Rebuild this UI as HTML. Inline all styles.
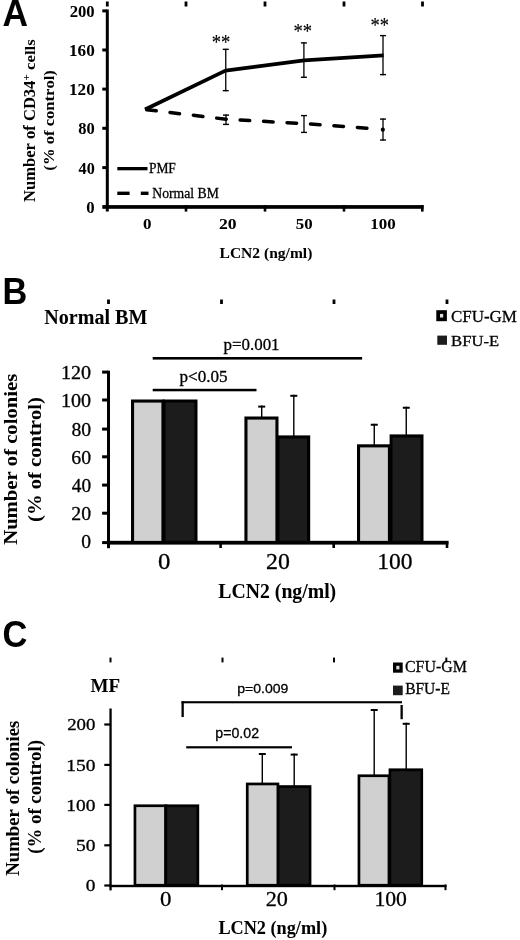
<!DOCTYPE html>
<html><head><meta charset="utf-8"><title>Figure</title>
<style>
html,body{margin:0;padding:0;background:#fff;}
body{width:520px;height:940px;overflow:hidden;font-family:"Liberation Serif",serif;}
svg{display:block;}
text{font-kerning:none;stroke:#000;stroke-width:0.35px;paint-order:stroke;}
</style></head>
<body>
<svg width="520" height="940" viewBox="0 0 520 940">
<defs><filter id="bl" x="0" y="0" width="1" height="1"><feGaussianBlur stdDeviation="0.45"/></filter></defs>
<rect width="520" height="940" fill="#fff"/>
<g filter="url(#bl)">
<text transform="translate(2.52,25.80) scale(0.9761,1)" font-family='"Liberation Sans", sans-serif' font-weight="bold" font-size="36.19" fill="#000"  style="stroke-width:0.05px">A</text>
<rect x="105.90" y="1.50" width="2.80" height="5.00" fill="#000"/>
<rect x="184.60" y="1.50" width="2.80" height="5.00" fill="#000"/>
<rect x="263.60" y="1.50" width="2.80" height="5.00" fill="#000"/>
<rect x="342.60" y="1.50" width="2.80" height="5.00" fill="#000"/>
<rect x="421.10" y="1.50" width="2.80" height="5.00" fill="#000"/>
<rect x="105.80" y="9.50" width="3.00" height="202.00" fill="#000"/>
<rect x="105.80" y="205.10" width="317.80" height="3.70" fill="#000"/>
<rect x="102.30" y="9.40" width="4.70" height="3.00" fill="#000"/>
<rect x="102.30" y="48.50" width="4.70" height="3.00" fill="#000"/>
<rect x="102.30" y="87.60" width="4.70" height="3.00" fill="#000"/>
<rect x="102.30" y="126.80" width="4.70" height="3.00" fill="#000"/>
<rect x="102.30" y="166.10" width="4.70" height="3.00" fill="#000"/>
<rect x="102.30" y="205.10" width="4.70" height="3.70" fill="#000"/>
<rect x="184.70" y="205.10" width="2.60" height="6.50" fill="#000"/>
<rect x="263.70" y="205.10" width="2.60" height="6.50" fill="#000"/>
<rect x="342.70" y="205.10" width="2.60" height="6.50" fill="#000"/>
<rect x="421.00" y="205.10" width="2.60" height="6.50" fill="#000"/>
<text transform="translate(69.70,16.83) scale(0.9627,1)" font-family='"Liberation Serif", serif' font-weight="bold" font-size="17.34" fill="#000"  style="stroke-width:0.05px">200</text>
<text transform="translate(69.03,55.93) scale(0.9892,1)" font-family='"Liberation Serif", serif' font-weight="bold" font-size="17.34" fill="#000"  style="stroke-width:0.05px">160</text>
<text transform="translate(69.03,95.03) scale(0.9892,1)" font-family='"Liberation Serif", serif' font-weight="bold" font-size="17.34" fill="#000"  style="stroke-width:0.05px">120</text>
<text transform="translate(78.25,134.23) scale(0.9502,1)" font-family='"Liberation Serif", serif' font-weight="bold" font-size="17.34" fill="#000"  style="stroke-width:0.05px">80</text>
<text transform="translate(78.58,173.53) scale(0.9306,1)" font-family='"Liberation Serif", serif' font-weight="bold" font-size="17.34" fill="#000"  style="stroke-width:0.05px">40</text>
<text transform="translate(86.36,212.93) scale(0.9662,1)" font-family='"Liberation Serif", serif' font-weight="bold" font-size="17.34" fill="#000"  style="stroke-width:0.05px">0</text>
<text transform="translate(142.95,228.55) scale(1.1239,1)" font-family='"Liberation Serif", serif' font-weight="bold" font-size="15.12" fill="#000"  style="stroke-width:0.05px">0</text>
<text transform="translate(219.06,228.55) scale(1.1650,1)" font-family='"Liberation Serif", serif' font-weight="bold" font-size="15.12" fill="#000"  style="stroke-width:0.05px">20</text>
<text transform="translate(295.83,228.55) scale(1.1123,1)" font-family='"Liberation Serif", serif' font-weight="bold" font-size="15.12" fill="#000"  style="stroke-width:0.05px">50</text>
<text transform="translate(370.24,228.55) scale(1.1203,1)" font-family='"Liberation Serif", serif' font-weight="bold" font-size="15.12" fill="#000"  style="stroke-width:0.05px">100</text>
<text transform="translate(219.53,257.50) scale(1.0506,1)" font-family='"Liberation Serif", serif' font-weight="bold" font-size="14.81" fill="#000"  style="stroke-width:0.05px">LCN2 (ng/ml)</text>
<text transform="translate(35.00,202.02) rotate(-90) scale(0.9776,1)" font-family='"Liberation Serif", serif' font-weight="bold" font-size="16.95" fill="#000"  style="stroke-width:0.05px">Number of CD34</text>
<text transform="translate(35.05,69.97) rotate(-90) scale(1.0709,1)" font-family='"Liberation Serif", serif' font-weight="bold" font-size="15.63" fill="#000"  style="stroke-width:0.05px">cells</text>
<text transform="translate(30.26,80.58) rotate(-90) scale(1.0221,1)" font-family='"Liberation Serif", serif' font-weight="bold" font-size="10.73" fill="#000"  style="stroke-width:0.05px">+</text>
<text transform="translate(53.54,170.63) rotate(-90) scale(1.1551,1)" font-family='"Liberation Serif", serif' font-weight="bold" font-size="14.39" fill="#000"  style="stroke-width:0.05px">(% of control)</text>
<polyline points="145,109.5 225.5,70.6 304.1,60.4 383.6,55.4" fill="none" stroke="#000" stroke-width="3.7" stroke-linejoin="round"/>
<polyline points="145,109.5 226,119.25 304,123.6 371.2,128.5" fill="none" stroke="#000" stroke-width="3.5" stroke-dasharray="9.6,13.9" stroke-dashoffset="21.8" stroke-linecap="round"/>
<circle cx="382.8" cy="129.7" r="2.1" fill="#000"/>
<line x1="225.75" y1="48.75" x2="225.75" y2="91.25" stroke="#000" stroke-width="1.3" />
<line x1="222.75" y1="49.35" x2="228.75" y2="49.35" stroke="#000" stroke-width="1.4" />
<line x1="222.75" y1="90.65" x2="228.75" y2="90.65" stroke="#000" stroke-width="1.4" />
<line x1="303.90" y1="42.30" x2="303.90" y2="77.90" stroke="#000" stroke-width="1.3" />
<line x1="300.90" y1="42.90" x2="306.90" y2="42.90" stroke="#000" stroke-width="1.4" />
<line x1="300.90" y1="77.30" x2="306.90" y2="77.30" stroke="#000" stroke-width="1.4" />
<line x1="383.00" y1="35.00" x2="383.00" y2="75.20" stroke="#000" stroke-width="1.3" />
<line x1="380.00" y1="35.60" x2="386.00" y2="35.60" stroke="#000" stroke-width="1.4" />
<line x1="380.00" y1="74.60" x2="386.00" y2="74.60" stroke="#000" stroke-width="1.4" />
<line x1="226.00" y1="114.50" x2="226.00" y2="125.00" stroke="#000" stroke-width="1.3" />
<line x1="223.00" y1="115.10" x2="229.00" y2="115.10" stroke="#000" stroke-width="1.4" />
<line x1="223.00" y1="124.40" x2="229.00" y2="124.40" stroke="#000" stroke-width="1.4" />
<line x1="304.00" y1="115.00" x2="304.00" y2="133.00" stroke="#000" stroke-width="1.3" />
<line x1="301.00" y1="115.60" x2="307.00" y2="115.60" stroke="#000" stroke-width="1.4" />
<line x1="301.00" y1="132.40" x2="307.00" y2="132.40" stroke="#000" stroke-width="1.4" />
<line x1="383.00" y1="118.50" x2="383.00" y2="140.60" stroke="#000" stroke-width="1.3" />
<line x1="380.00" y1="119.10" x2="386.00" y2="119.10" stroke="#000" stroke-width="1.4" />
<line x1="380.00" y1="140.00" x2="386.00" y2="140.00" stroke="#000" stroke-width="1.4" />
<text transform="translate(211.79,48.95) scale(0.8857,1)" font-family='"Liberation Serif", serif' font-weight="normal" font-size="21.00" fill="#000" style="stroke-width:0.15px">**</text>
<text transform="translate(293.49,38.17) scale(0.8974,1)" font-family='"Liberation Serif", serif' font-weight="normal" font-size="20.73" fill="#000" style="stroke-width:0.15px">**</text>
<text transform="translate(370.50,32.49) scale(0.9039,1)" font-family='"Liberation Serif", serif' font-weight="normal" font-size="20.45" fill="#000" style="stroke-width:0.15px">**</text>
<rect x="117.30" y="167.00" width="30.20" height="3.30" fill="#000"/>
<text transform="translate(148.91,173.00) scale(0.9592,1)" font-family='"Liberation Serif", serif' font-weight="normal" font-size="14.05" fill="#000"  style="stroke-width:0.3px">PMF</text>
<rect x="117.30" y="191.60" width="12.30" height="3.40" fill="#000"/>
<rect x="140.80" y="191.60" width="7.70" height="3.40" fill="#000"/>
<text transform="translate(152.31,198.20) scale(0.9062,1)" font-family='"Liberation Serif", serif' font-weight="normal" font-size="15.12" fill="#000"  style="stroke-width:0.3px">Normal BM</text>
<text transform="translate(2.61,303.90) scale(0.9469,1)" font-family='"Liberation Sans", sans-serif' font-weight="bold" font-size="36.19" fill="#000"  style="stroke-width:0.05px">B</text>
<rect x="107.10" y="299.50" width="2.80" height="4.50" fill="#000"/>
<rect x="220.10" y="299.50" width="2.80" height="4.50" fill="#000"/>
<rect x="332.60" y="299.50" width="2.80" height="4.50" fill="#000"/>
<rect x="445.60" y="299.50" width="2.80" height="4.50" fill="#000"/>
<text transform="translate(44.22,324.00) scale(0.9970,1)" font-family='"Liberation Serif", serif' font-weight="bold" font-size="20.16" fill="#000"  style="stroke-width:0.05px">Normal BM</text>
<rect x="107.00" y="370.70" width="3.00" height="177.50" fill="#000"/>
<rect x="107.00" y="540.80" width="341.50" height="3.80" fill="#000"/>
<rect x="102.10" y="370.60" width="5.90" height="3.00" fill="#000"/>
<rect x="102.10" y="398.50" width="5.90" height="3.00" fill="#000"/>
<rect x="102.10" y="427.60" width="5.90" height="3.00" fill="#000"/>
<rect x="102.10" y="455.30" width="5.90" height="3.00" fill="#000"/>
<rect x="102.10" y="483.60" width="5.90" height="3.00" fill="#000"/>
<rect x="102.10" y="511.70" width="5.90" height="3.00" fill="#000"/>
<rect x="102.10" y="541.10" width="5.90" height="3.00" fill="#000"/>
<rect x="219.30" y="541.00" width="2.60" height="7.00" fill="#000"/>
<rect x="332.40" y="541.00" width="2.60" height="7.00" fill="#000"/>
<rect x="445.70" y="541.00" width="2.60" height="7.00" fill="#000"/>
<text transform="translate(61.03,379.01) scale(1.0508,1)" font-family='"Liberation Serif", serif' font-weight="normal" font-size="19.12" fill="#000"  style="stroke-width:0.3px">120</text>
<text transform="translate(61.03,407.41) scale(1.0508,1)" font-family='"Liberation Serif", serif' font-weight="normal" font-size="19.12" fill="#000"  style="stroke-width:0.3px">100</text>
<text transform="translate(71.45,436.01) scale(1.0305,1)" font-family='"Liberation Serif", serif' font-weight="normal" font-size="19.12" fill="#000"  style="stroke-width:0.3px">80</text>
<text transform="translate(71.35,463.71) scale(1.0360,1)" font-family='"Liberation Serif", serif' font-weight="normal" font-size="19.12" fill="#000"  style="stroke-width:0.3px">60</text>
<text transform="translate(71.82,492.01) scale(1.0103,1)" font-family='"Liberation Serif", serif' font-weight="normal" font-size="19.12" fill="#000"  style="stroke-width:0.3px">40</text>
<text transform="translate(71.33,520.31) scale(1.0371,1)" font-family='"Liberation Serif", serif' font-weight="normal" font-size="19.12" fill="#000"  style="stroke-width:0.3px">20</text>
<text transform="translate(81.35,547.71) scale(1.0244,1)" font-family='"Liberation Serif", serif' font-weight="normal" font-size="19.12" fill="#000"  style="stroke-width:0.3px">0</text>
<rect x="132.55" y="401.05" width="30.40" height="141.40" fill="#d0d0d0" stroke="#000" stroke-width="3.1"/>
<rect x="164.05" y="401.05" width="31.90" height="141.40" fill="#1c1c1c" stroke="#000" stroke-width="3.1"/>
<rect x="245.95" y="418.05" width="31.00" height="124.40" fill="#d0d0d0" stroke="#000" stroke-width="3.1"/>
<rect x="278.05" y="436.95" width="30.60" height="105.50" fill="#1c1c1c" stroke="#000" stroke-width="3.1"/>
<rect x="358.55" y="445.85" width="30.90" height="96.60" fill="#d0d0d0" stroke="#000" stroke-width="3.1"/>
<rect x="391.15" y="435.95" width="30.80" height="106.50" fill="#1c1c1c" stroke="#000" stroke-width="3.1"/>
<line x1="261.70" y1="405.60" x2="261.70" y2="418.00" stroke="#000" stroke-width="1.4" />
<line x1="258.20" y1="406.60" x2="265.20" y2="406.60" stroke="#000" stroke-width="2" />
<line x1="293.80" y1="394.80" x2="293.80" y2="437.00" stroke="#000" stroke-width="1.4" />
<line x1="290.30" y1="395.80" x2="297.30" y2="395.80" stroke="#000" stroke-width="2" />
<line x1="374.25" y1="423.75" x2="374.25" y2="446.00" stroke="#000" stroke-width="1.4" />
<line x1="370.75" y1="424.75" x2="377.75" y2="424.75" stroke="#000" stroke-width="2" />
<line x1="406.25" y1="406.75" x2="406.25" y2="435.00" stroke="#000" stroke-width="1.4" />
<line x1="402.75" y1="407.75" x2="409.75" y2="407.75" stroke="#000" stroke-width="2" />
<rect x="152.70" y="357.00" width="209.40" height="2.60" fill="#000"/>
<rect x="152.70" y="388.80" width="103.80" height="2.50" fill="#000"/>
<text transform="translate(223.43,350.07) scale(0.9666,1)" font-family='"Liberation Serif", serif' font-weight="normal" font-size="17.54" fill="#000"  style="stroke-width:0.3px">p=0.001</text>
<text transform="translate(179.52,382.38) scale(1.0359,1)" font-family='"Liberation Serif", serif' font-weight="normal" font-size="16.52" fill="#000"  style="stroke-width:0.3px">p&lt;0.05</text>
<rect x="436.30" y="310.20" width="10.60" height="11.00" fill="#000"/>
<rect x="440.00" y="313.90" width="3.20" height="3.60" fill="#ddd"/>
<rect x="437.30" y="335.60" width="9.70" height="9.20" fill="#1c1c1c"/>
<text transform="translate(450.90,321.83) scale(0.9675,1)" font-family='"Liberation Serif", serif' font-weight="normal" font-size="17.56" fill="#000"  style="stroke-width:0.3px">CFU-GM</text>
<text transform="translate(451.12,345.80) scale(1.1216,1)" font-family='"Liberation Serif", serif' font-weight="normal" font-size="14.81" fill="#000"  style="stroke-width:0.3px">BFU-E</text>
<text transform="translate(157.96,568.78) scale(1.0786,1)" font-family='"Liberation Serif", serif' font-weight="normal" font-size="22.97" fill="#000"  style="stroke-width:0.3px">0</text>
<text transform="translate(266.05,568.78) scale(1.0386,1)" font-family='"Liberation Serif", serif' font-weight="normal" font-size="22.97" fill="#000"  style="stroke-width:0.3px">20</text>
<text transform="translate(377.23,568.78) scale(1.0234,1)" font-family='"Liberation Serif", serif' font-weight="normal" font-size="22.97" fill="#000"  style="stroke-width:0.3px">100</text>
<text transform="translate(218.36,597.70) scale(0.9576,1)" font-family='"Liberation Serif", serif' font-weight="bold" font-size="20.62" fill="#000"  style="stroke-width:0.05px">LCN2 (ng/ml)</text>
<text transform="translate(17.30,544.79) rotate(-90) scale(1.0418,1)" font-family='"Liberation Serif", serif' font-weight="bold" font-size="19.85" fill="#000"  style="stroke-width:0.05px">Number of colonies</text>
<text transform="translate(40.68,521.91) rotate(-90) scale(1.1187,1)" font-family='"Liberation Serif", serif' font-weight="bold" font-size="18.43" fill="#000"  style="stroke-width:0.05px">(% of control)</text>
<text transform="translate(2.59,646.84) scale(0.9229,1)" font-family='"Liberation Sans", sans-serif' font-weight="bold" font-size="37.29" fill="#000"  style="stroke-width:0.05px">C</text>
<rect x="109.50" y="657.60" width="2.00" height="4.80" fill="#000"/>
<rect x="221.50" y="657.60" width="2.00" height="4.80" fill="#000"/>
<rect x="333.00" y="657.60" width="2.00" height="4.80" fill="#000"/>
<rect x="445.30" y="657.60" width="2.00" height="4.80" fill="#000"/>
<text transform="translate(90.47,691.50) scale(1.0490,1)" font-family='"Liberation Serif", serif' font-weight="bold" font-size="18.17" fill="#000"  style="stroke-width:0.05px">MF</text>
<rect x="109.40" y="708.50" width="2.30" height="181.90" fill="#000"/>
<rect x="109.40" y="884.80" width="337.10" height="2.40" fill="#000"/>
<rect x="104.30" y="723.40" width="5.70" height="2.20" fill="#000"/>
<rect x="104.30" y="763.80" width="5.70" height="2.20" fill="#000"/>
<rect x="104.30" y="803.80" width="5.70" height="2.20" fill="#000"/>
<rect x="104.30" y="844.20" width="5.70" height="2.20" fill="#000"/>
<rect x="104.30" y="884.40" width="5.70" height="2.20" fill="#000"/>
<rect x="221.00" y="884.50" width="2.00" height="5.70" fill="#000"/>
<rect x="333.50" y="884.50" width="2.00" height="5.70" fill="#000"/>
<rect x="444.50" y="884.50" width="2.00" height="5.70" fill="#000"/>
<text transform="translate(67.17,730.34) scale(1.1345,1)" font-family='"Liberation Serif", serif' font-weight="normal" font-size="16.60" fill="#000"  style="stroke-width:0.3px">200</text>
<text transform="translate(66.29,770.74) scale(1.1708,1)" font-family='"Liberation Serif", serif' font-weight="normal" font-size="16.60" fill="#000"  style="stroke-width:0.3px">150</text>
<text transform="translate(66.29,810.74) scale(1.1708,1)" font-family='"Liberation Serif", serif' font-weight="normal" font-size="16.60" fill="#000"  style="stroke-width:0.3px">100</text>
<text transform="translate(75.97,851.14) scale(1.1733,1)" font-family='"Liberation Serif", serif' font-weight="normal" font-size="16.60" fill="#000"  style="stroke-width:0.3px">50</text>
<text transform="translate(85.76,891.34) scale(1.1657,1)" font-family='"Liberation Serif", serif' font-weight="normal" font-size="16.60" fill="#000"  style="stroke-width:0.3px">0</text>
<rect x="134.95" y="805.75" width="30.70" height="79.50" fill="#d0d0d0" stroke="#000" stroke-width="2.7"/>
<rect x="165.75" y="805.75" width="32.10" height="79.50" fill="#1c1c1c" stroke="#000" stroke-width="2.7"/>
<rect x="247.25" y="783.95" width="30.70" height="101.30" fill="#d0d0d0" stroke="#000" stroke-width="2.7"/>
<rect x="278.25" y="786.55" width="31.80" height="98.70" fill="#1c1c1c" stroke="#000" stroke-width="2.7"/>
<rect x="358.95" y="775.75" width="30.00" height="109.50" fill="#d0d0d0" stroke="#000" stroke-width="2.7"/>
<rect x="389.95" y="769.75" width="31.80" height="115.50" fill="#1c1c1c" stroke="#000" stroke-width="2.7"/>
<line x1="262.30" y1="753.00" x2="262.30" y2="785.00" stroke="#000" stroke-width="1.4" />
<line x1="258.80" y1="754.00" x2="265.80" y2="754.00" stroke="#000" stroke-width="2" />
<line x1="294.20" y1="753.60" x2="294.20" y2="787.00" stroke="#000" stroke-width="1.4" />
<line x1="290.70" y1="754.60" x2="297.70" y2="754.60" stroke="#000" stroke-width="2" />
<line x1="374.20" y1="709.00" x2="374.20" y2="776.00" stroke="#000" stroke-width="1.4" />
<line x1="370.70" y1="710.00" x2="377.70" y2="710.00" stroke="#000" stroke-width="2" />
<line x1="406.20" y1="722.80" x2="406.20" y2="770.00" stroke="#000" stroke-width="1.4" />
<line x1="402.70" y1="723.80" x2="409.70" y2="723.80" stroke="#000" stroke-width="2" />
<rect x="181.50" y="701.20" width="220.50" height="2.10" fill="#000"/>
<rect x="181.50" y="701.20" width="2.30" height="15.80" fill="#000"/>
<rect x="400.50" y="705.00" width="2.30" height="14.20" fill="#000"/>
<rect x="186.20" y="746.20" width="105.80" height="2.20" fill="#000"/>
<text transform="translate(237.19,693.00) scale(1.0451,1)" font-family='"Liberation Sans", sans-serif' font-weight="normal" font-size="13.47" fill="#000"  style="stroke-width:0.3px">p=0.009</text>
<text transform="translate(215.28,738.11) scale(1.0208,1)" font-family='"Liberation Sans", sans-serif' font-weight="normal" font-size="13.91" fill="#000"  style="stroke-width:0.3px">p=0.02</text>
<rect x="393.00" y="662.50" width="9.70" height="10.20" fill="#000"/>
<rect x="396.30" y="665.80" width="3.10" height="3.60" fill="#ddd"/>
<rect x="393.00" y="685.60" width="9.70" height="9.60" fill="#1c1c1c"/>
<text transform="translate(404.95,672.40) scale(0.9322,1)" font-family='"Liberation Serif", serif' font-weight="normal" font-size="17.10" fill="#000"  style="stroke-width:0.3px">CFU-GM</text>
<text transform="translate(405.15,694.10) scale(0.9862,1)" font-family='"Liberation Serif", serif' font-weight="normal" font-size="15.73" fill="#000"  style="stroke-width:0.3px">BFU-E</text>
<text transform="translate(159.93,905.79) scale(1.0800,1)" font-family='"Liberation Serif", serif' font-weight="normal" font-size="21.19" fill="#000"  style="stroke-width:0.3px">0</text>
<text transform="translate(265.72,905.79) scale(1.0487,1)" font-family='"Liberation Serif", serif' font-weight="normal" font-size="21.19" fill="#000"  style="stroke-width:0.3px">20</text>
<text transform="translate(374.39,905.79) scale(1.0234,1)" font-family='"Liberation Serif", serif' font-weight="normal" font-size="21.19" fill="#000"  style="stroke-width:0.3px">100</text>
<text transform="translate(218.39,933.50) scale(0.9951,1)" font-family='"Liberation Serif", serif' font-weight="bold" font-size="18.33" fill="#000"  style="stroke-width:0.05px">LCN2 (ng/ml)</text>
<text transform="translate(18.70,875.76) rotate(-90) scale(0.9896,1)" font-family='"Liberation Serif", serif' font-weight="bold" font-size="18.94" fill="#000"  style="stroke-width:0.05px">Number of colonies</text>
<text transform="translate(40.80,853.63) rotate(-90) scale(1.0247,1)" font-family='"Liberation Serif", serif' font-weight="bold" font-size="18.32" fill="#000"  style="stroke-width:0.05px">(% of control)</text>
</g>
</svg>
</body></html>
